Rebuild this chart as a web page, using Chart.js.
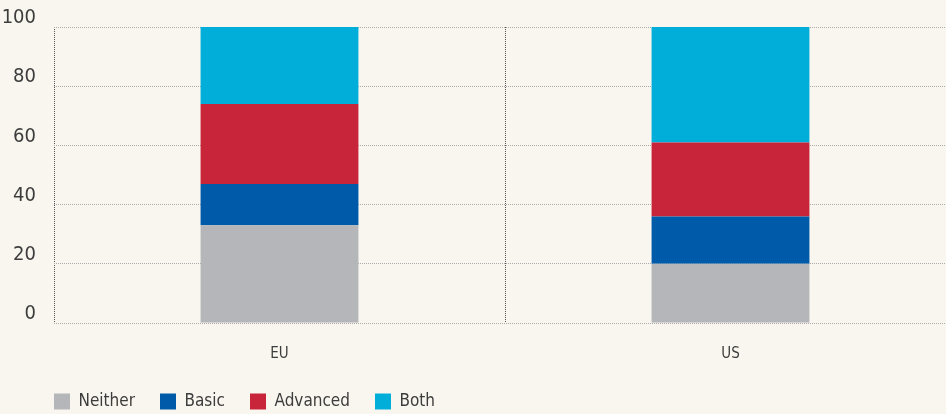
<!DOCTYPE html>
<html>
<head>
<meta charset="utf-8">
<script src="https://cdn.jsdelivr.net/npm/chart.js@4"></script>
<style>
  html, body { margin: 0; padding: 0; background: #f9f6ef; overflow: hidden; }
  #wrap { width: 960px; height: 414px; }
</style>
</head>
<body>
<div id="wrap"><canvas id="chart"></canvas></div>
<script>
const regions = ['EU', 'US'];
const neither = [33, 20];
const basic = [14, 16];
const advanced = [27, 25];
const both = [26, 39];
const yTicks = [0, 20, 40, 60, 80, 100];

const font = '"DejaVu Sans Condensed", "DejaVu Sans", sans-serif';
const textColor = '#3d3d3d';

// legend starts under the plot area, not at the canvas edge
const legendShift = {
  id: 'legendShift',
  afterLayout(chart) {
    chart.legend.left = chart.chartArea.left - 25;
  },
};

const ctx = document.getElementById('chart').getContext('2d');
new Chart(ctx, {
  type: 'bar',
  data: {
    labels: regions,
    datasets: [
      { label: 'Neither', data: neither, backgroundColor: '#b5b6ba' },
      { label: 'Basic', data: basic, backgroundColor: '#005aaa' },
      { label: 'Advanced', data: advanced, backgroundColor: '#c8243a' },
      { label: 'Both', data: both, backgroundColor: '#00aed9' },
    ],
  },
  plugins: [legendShift],
  options: {
    responsive: true,
    maintainAspectRatio: false,
    animation: false,
    layout: { padding: { top: 27, right: 4, left: 0, bottom: -6 } },
    datasets: { bar: { barPercentage: 0.35, categoryPercentage: 1 } },
    plugins: {
      tooltip: { enabled: false },
      legend: {
        position: 'bottom',
        align: 'start',
        labels: {
          boxWidth: 16,
          boxHeight: 16,
          padding: 25,
          color: textColor,
          font: { family: font, size: 17 },
        },
      },
    },
    scales: {
      x: {
        stacked: true,
        offset: true,
        border: { display: false, dash: [1, 1] },
        grid: { offset: true, color: '#555', drawTicks: false },
        ticks: { color: textColor, padding: 22, font: { family: font, size: 15 } },
        afterFit: scale => { scale.height = 45; },
      },
      y: {
        stacked: true,
        min: 0,
        max: 100,
        afterBuildTicks: scale => { scale.ticks = yTicks.map(v => ({ value: v })); },
        border: { display: false, dash: [1, 1] },
        grid: { color: '#aaa', drawTicks: false },
        ticks: { color: textColor, padding: 18, labelOffset: -9, font: { family: font, size: 20 } },
        afterFit: scale => {
          scale.width = 54;
          scale.paddingTop = 0;
          scale.paddingBottom = 0;
        },
      },
    },
  },
});
</script>
</body>
</html>
